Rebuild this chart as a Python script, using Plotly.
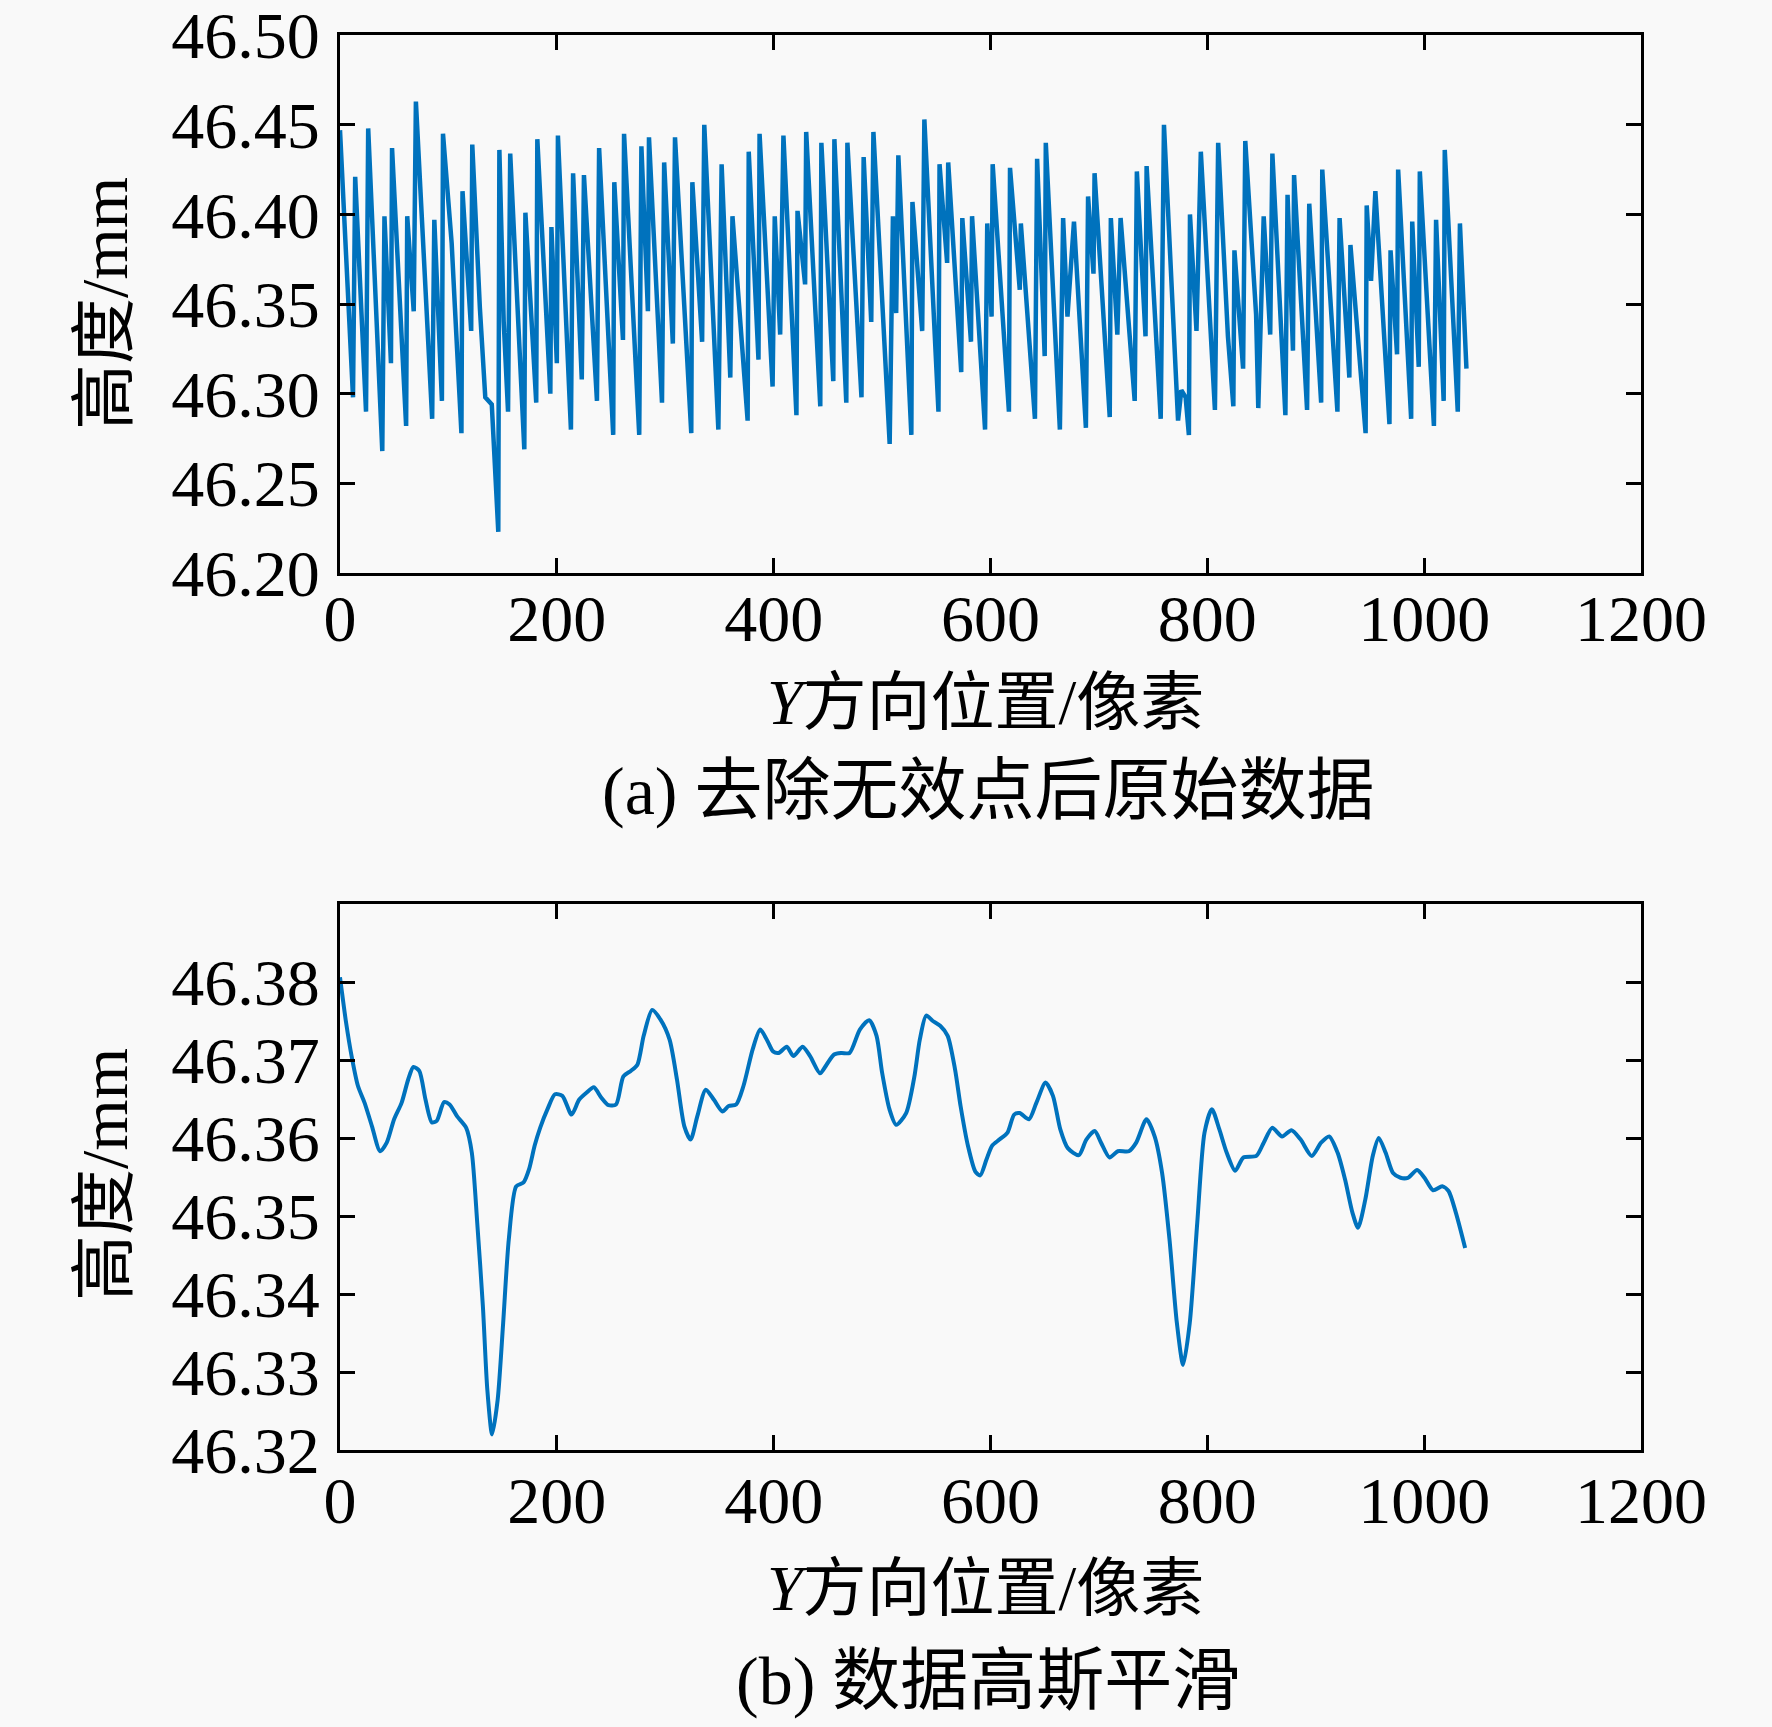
"""
Height profile along the Y direction: raw data (invalid points removed)
and the Gaussian-smoothed version, drawn as two stacked panels.
"""

import plotly.graph_objects as go
from plotly.subplots import make_subplots

# (a) raw data after removing invalid points -- turning points
raw_x = [0, 12, 14, 24, 26, 39, 41, 47, 48, 61, 62, 68, 70, 85, 87, 94, 95,
         103, 106, 112, 113, 121, 122, 129, 134, 140, 146, 147, 151, 155, 157,
         170, 171, 181, 182, 194, 195, 200, 201, 213, 215, 223, 225, 237, 239,
         252, 253, 261, 262, 276, 278, 284, 285, 297, 299, 307, 309, 324, 325,
         334, 336, 349, 352, 360, 362, 376, 377, 386, 387, 399, 401, 406, 409,
         421, 422, 429, 430, 443, 444, 455, 456, 467, 468, 481, 483, 490, 492,
         507, 510, 513, 515, 527, 528, 537, 539, 552, 553, 560, 561, 570, 573,
         574, 582, 583, 595, 597, 601, 602, 617, 618, 627, 628, 641, 643, 650,
         651, 664, 667, 671, 677, 688, 690, 695, 696, 710, 711, 717, 720, 733,
         735, 743, 744, 757, 760, 773, 776, 780, 783, 784, 790, 794, 807, 810,
         819, 824, 825, 833, 835, 845, 847, 852, 858, 860, 872, 874, 879, 880,
         892, 894, 905, 906, 920, 922, 931, 932, 946, 947, 951, 955, 968, 969,
         975, 976, 988, 989, 995, 996, 1009, 1011, 1018, 1019, 1031, 1033, 1039]
raw_h = [46.447, 46.298, 46.421, 46.290, 46.448, 46.268, 46.399, 46.317, 46.437,
         46.282, 46.399, 46.346, 46.463, 46.286, 46.397, 46.296, 46.445,
         46.384, 46.348, 46.278, 46.413, 46.335, 46.439, 46.348, 46.298,
         46.294, 46.223, 46.436, 46.340, 46.290, 46.434,
         46.269, 46.401, 46.295, 46.442, 46.300, 46.393, 46.317, 46.444,
         46.280, 46.423, 46.308, 46.422, 46.296, 46.437,
         46.277, 46.418, 46.330, 46.445, 46.277, 46.438, 46.346, 46.443,
         46.295, 46.429, 46.328, 46.443, 46.278, 46.418,
         46.329, 46.450, 46.280, 46.428, 46.309, 46.399, 46.285, 46.435,
         46.319, 46.445, 46.304, 46.399, 46.333, 46.444,
         46.288, 46.402, 46.361, 46.446, 46.293, 46.440, 46.307, 46.442,
         46.295, 46.440, 46.298, 46.432, 46.340, 46.446,
         46.272, 46.399, 46.345, 46.433, 46.277, 46.407, 46.335, 46.453,
         46.290, 46.428, 46.373, 46.429, 46.348, 46.312,
         46.398, 46.329, 46.399, 46.280, 46.395, 46.343, 46.428, 46.290,
         46.426, 46.358, 46.395, 46.286, 46.431, 46.321,
         46.440, 46.280, 46.398, 46.343, 46.396, 46.281, 46.410, 46.367,
         46.423, 46.287, 46.398, 46.333, 46.398, 46.296,
         46.424, 46.332, 46.427, 46.286, 46.450, 46.285, 46.302, 46.298,
         46.277, 46.400, 46.335, 46.435, 46.291, 46.440,
         46.332, 46.293, 46.380, 46.314, 46.441, 46.344, 46.292, 46.399,
         46.333, 46.434, 46.288, 46.411, 46.324, 46.422,
         46.291, 46.406, 46.295, 46.425, 46.290, 46.398, 46.309, 46.383,
         46.278, 46.405, 46.363, 46.413, 46.283, 46.380,
         46.322, 46.425, 46.286, 46.396, 46.315, 46.424, 46.282, 46.397,
         46.296, 46.436, 46.290, 46.395, 46.314]

# (b) Gaussian smoothed data
smooth_x = [0, 5.6, 10.7, 16.5, 22.7, 29.5, 37.0, 43.1, 49.9, 56.8, 62.9, 67.7,
            73.1, 78.9, 84.7, 89.2, 96.0, 101.1, 107.9, 116.4, 121.6, 126.6,
            131.8, 135.9, 140.3, 145.4, 150.5, 155.7, 162.5, 169.3, 174.4,
            179.5, 184.6, 191.4, 198.3, 205.1, 213.6, 220.5, 227.3, 234.1,
            240.9, 247.7, 254.6, 261.4, 268.2, 274.3, 280.1, 287.9, 295.5,
            304.0, 310.8, 317.6, 323.4, 329.6, 337.4, 344.9, 352.7, 358.5,
            365.4, 372.2, 380.7, 387.6, 394.4, 399.4, 404.6, 412.1, 418.2,
            426.7, 433.6, 442.8, 448.8, 455.7, 462.5, 470.0, 479.5, 488.1,
            494.9, 500.0, 506.8, 513.0, 522.2, 529.7, 534.8, 540.7, 546.8,
            553.6, 560.5, 567.3, 572.4, 579.2, 586.0, 590.5, 596.2, 601.4,
            608.2, 615.7, 621.8, 626.9, 635.5, 642.3, 650.8, 657.6, 664.4,
            671.3, 681.5, 688.4, 696.2, 702.0, 709.8, 717.4, 727.6, 734.4,
            743.9, 751.4, 758.3, 765.1, 771.9, 777.7, 783.8, 790.7, 797.4,
            804.2, 811.1, 817.9, 825.7, 833.3, 845.2, 852.0, 859.8, 869.0,
            877.6, 886.1, 896.3, 904.9, 912.4, 920.2, 927.0, 933.9, 939.0,
            945.7, 952.6, 958.1, 964.5, 971.3, 978.2, 985.0, 993.5, 1000.3,
            1008.2, 1016.7, 1022.5, 1029.3, 1037.8]
smooth_h = [46.3806, 46.3748, 46.3705, 46.3667, 46.3645, 46.3615, 46.3583,
            46.3594, 46.3624, 46.3645, 46.3675, 46.3691, 46.3686, 46.3649,
            46.3620, 46.3622, 46.3646, 46.3643, 46.3628, 46.3613, 46.3581,
            46.3491, 46.3384, 46.3277, 46.3220, 46.3264, 46.3363, 46.3470,
            46.3538, 46.3543, 46.3560, 46.3590, 46.3613, 46.3637, 46.3656,
            46.3654, 46.3630, 46.3649, 46.3658, 46.3665, 46.3652, 46.3642,
            46.3643, 46.3679, 46.3686, 46.3694, 46.3731, 46.3764, 46.3752,
            46.3726, 46.3675, 46.3615, 46.3598, 46.3628, 46.3662, 46.3649,
            46.3634, 46.3641, 46.3643, 46.3667, 46.3714, 46.3739, 46.3724,
            46.3711, 46.3709, 46.3717, 46.3705, 46.3717, 46.3705, 46.3683,
            46.3694, 46.3707, 46.3709, 46.3709, 46.3739, 46.3751, 46.3731,
            46.3684, 46.3637, 46.3617, 46.3632, 46.3678, 46.3726, 46.3757,
            46.3750, 46.3744, 46.3731, 46.3688, 46.3641, 46.3590, 46.3557,
            46.3552, 46.3572, 46.3590, 46.3598, 46.3607, 46.3630, 46.3632,
            46.3624, 46.3645, 46.3671, 46.3654, 46.3611, 46.3587, 46.3578,
            46.3598, 46.3609, 46.3594, 46.3575, 46.3583, 46.3583, 46.3594,
            46.3624, 46.3602, 46.3555, 46.3470, 46.3363, 46.3309, 46.3363,
            46.3491, 46.3607, 46.3637, 46.3611, 46.3581, 46.3558, 46.3575,
            46.3577, 46.3594, 46.3613, 46.3602, 46.3610, 46.3598, 46.3577,
            46.3594, 46.3602, 46.3581, 46.3547, 46.3504, 46.3485, 46.3521,
            46.3577, 46.3600, 46.3581, 46.3555, 46.3549, 46.3549, 46.3559,
            46.3549, 46.3533, 46.3538, 46.3532, 46.3504, 46.3459]

x_ticks = [0, 200, 400, 600, 800, 1000, 1200]
top_y_ticks = [46.20, 46.25, 46.30, 46.35, 46.40, 46.45, 46.50]
bottom_y_ticks = [46.32, 46.33, 46.34, 46.35, 46.36, 46.37, 46.38]

LINE_COLOR = '#0072BD'
BG = '#f9f9f9'
SERIF = 'Liberation Serif, Noto Sans CJK SC, serif'
W, H = 1772, 1727

fig = make_subplots(rows=2, cols=1)

fig.add_trace(go.Scatter(x=raw_x, y=raw_h, mode='lines',
                         line=dict(color=LINE_COLOR, width=4.5)), row=1, col=1)
fig.add_trace(go.Scatter(x=smooth_x, y=smooth_h, mode='lines',
                         line=dict(color=LINE_COLOR, width=4,
                                   shape='spline', smoothing=0.7)), row=2, col=1)

# MATLAB style boxed axes with inward ticks on all four sides
axis_style = dict(showline=True, linecolor='black', linewidth=3, mirror='ticks',
                  ticks='inside', ticklen=15, tickwidth=3, tickcolor='black',
                  showgrid=False, zeroline=False, automargin=False,
                  ticklabeloverflow='allow',
                  tickfont=dict(family=SERIF, size=66, color='black'))

x_dom = [340 / W, 1641 / W]
fig.update_xaxes(axis_style, range=[0, 1200.01], tickvals=x_ticks, domain=x_dom)
fig.update_xaxes(ticklabelstandoff=-14, row=1, col=1)
fig.update_xaxes(ticklabelstandoff=-9, row=2, col=1)
fig.update_yaxes(axis_style, ticklabelstandoff=4, tickformat='.2f')

fig.update_yaxes(range=[46.20, 46.5001], tickvals=top_y_ticks,
                 domain=[1 - 573 / H, 1 - 35 / H], row=1, col=1)
fig.update_yaxes(range=[46.32, 46.39], tickvals=bottom_y_ticks,
                 domain=[1 - 1450 / H, 1 - 904 / H], row=2, col=1)

# axis titles and panel captions placed as paper annotations
texts = [
    ('高度/mm', 104, 304, 66, -90),
    ('高度/mm', 104, 1175, 66, -90),
    ('<i>Y</i>方向位置/像素', 985, 703, 64, 0),
    ('<i>Y</i>方向位置/像素', 985, 1588, 64, 0),
    ('(a) 去除无效点后原始数据', 988, 791, 68, 0),
    ('(b) 数据高斯平滑', 988, 1681, 68, 0),
]
for txt, px, py, size, angle in texts:
    fig.add_annotation(text=txt, x=px / W, y=1 - py / H, xref='paper', yref='paper',
                       showarrow=False, textangle=angle, xanchor='center',
                       yanchor='middle', font=dict(family=SERIF, size=size, color='black'))

fig.update_layout(
    width=W, height=H,
    margin=dict(l=0, r=0, t=0, b=0),
    paper_bgcolor=BG, plot_bgcolor=BG,
    showlegend=False,
)

# drop the default page margin so the figure fills the window exactly
fig.write_html("out.html", config={'displayModeBar': False},
               post_script="document.body.style.margin='0';document.body.style.overflow='hidden';")
